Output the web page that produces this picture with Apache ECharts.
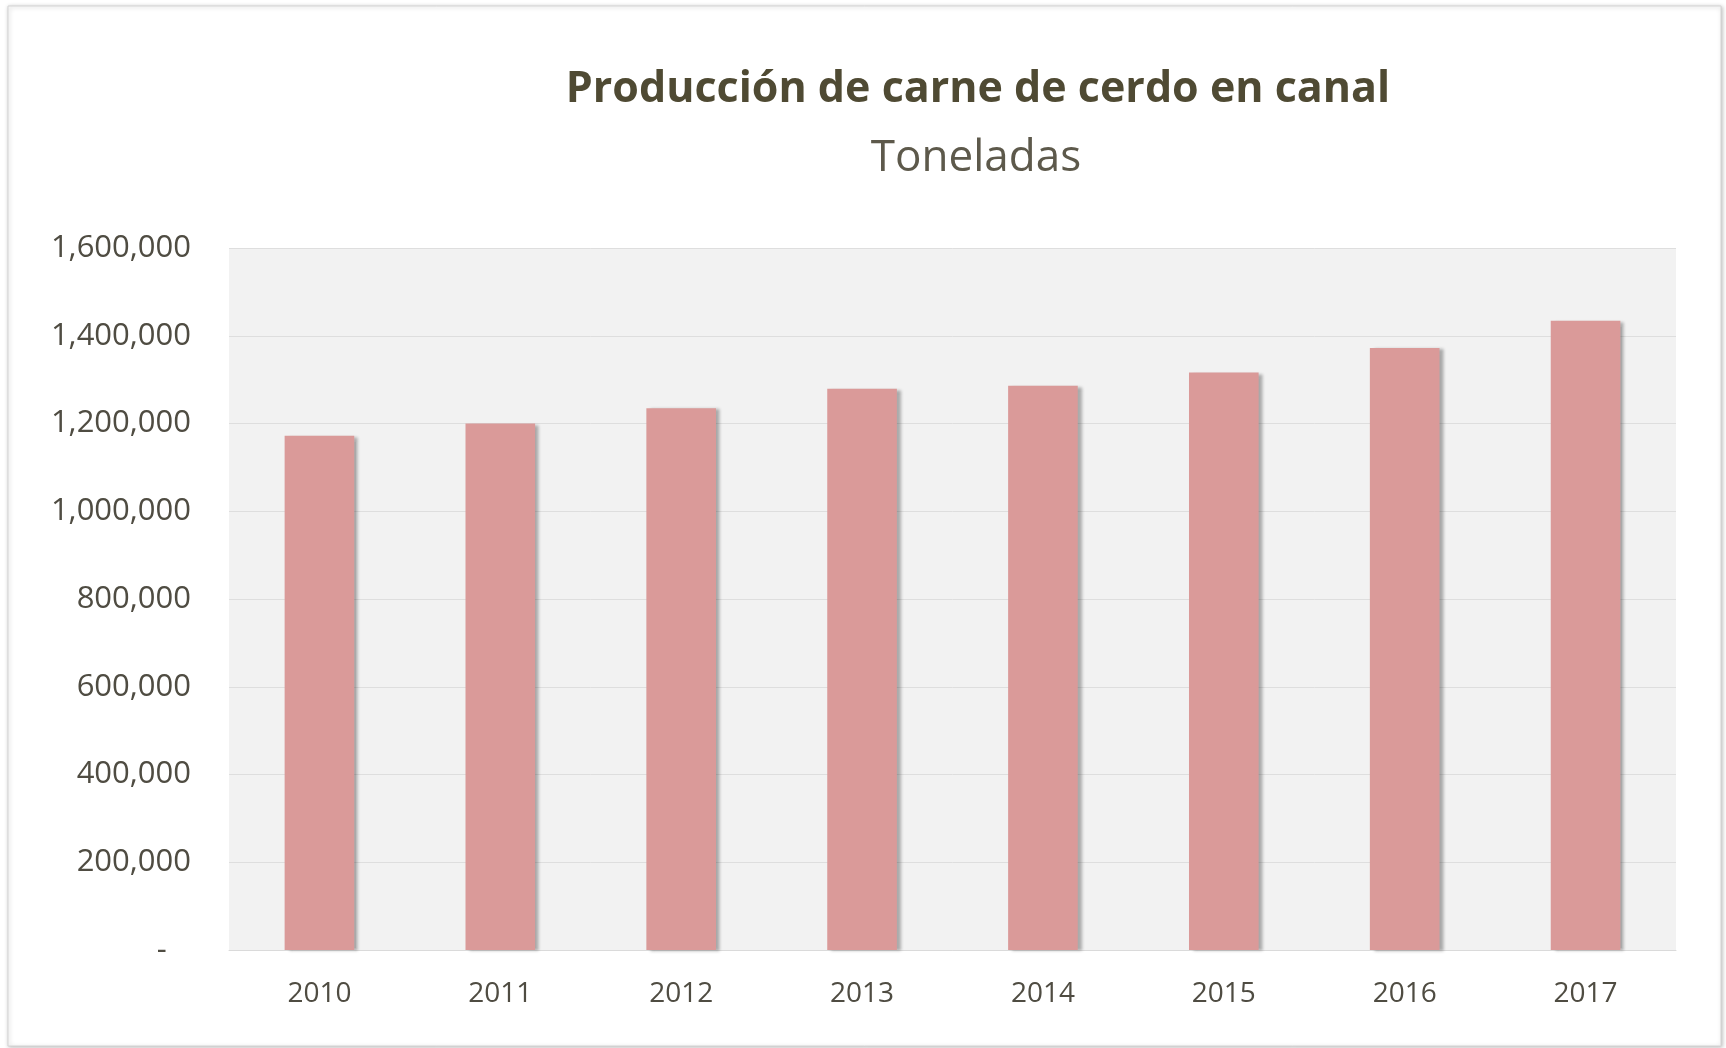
<!DOCTYPE html>
<html>
<head>
<meta charset="utf-8">
<script src="https://cdn.jsdelivr.net/npm/echarts@6/dist/echarts.min.js"></script>
<style>
    html, body { margin: 0; padding: 0; background: #fff; }
    #porkChart { width: 1726px; height: 1048px; }
</style>
</head>
<body>
<div id="porkChart"></div>
<script>
    // datos (toneladas)
    const years = ['2010', '2011', '2012', '2013', '2014', '2015', '2016', '2017'];
    const production = [1172000, 1200000, 1235000, 1279000, 1286000, 1316000, 1372000, 1434000];
    const yTicks = [0, 200000, 400000, 600000, 800000, 1000000, 1200000, 1400000, 1600000];

    const font = '"Open Sans", "Liberation Sans", sans-serif';
    const textColor = '#4f4c42';

    let myChart = echarts.init(document.getElementById('porkChart'));

    let option = {
        backgroundColor: '#ffffff',
        animation: false,
        graphic: [{
            type: 'rect',
            z: -10,
            shape: {x: 8, y: 6, width: 1713, height: 1040},
            style: {
                fill: '#ffffff',
                stroke: '#d4d4d4',
                lineWidth: 1,
                shadowColor: 'rgba(0,0,0,0.25)',
                shadowBlur: 4,
                shadowOffsetX: 1,
                shadowOffsetY: 1
            }
        }],
        title: [{
            text: 'Producción de carne de cerdo en canal',
            left: 973,
            top: 63,
            textAlign: 'center',
            textStyle: {
                fontFamily: font,
                fontSize: 43,
                fontWeight: 'bold',
                color: '#4f4a33'
            }
        }, {
            text: 'Toneladas',
            left: 971,
            top: 131,
            textAlign: 'center',
            textStyle: {
                fontFamily: font,
                fontSize: 44,
                fontWeight: 'normal',
                color: '#5d594b'
            }
        }],
        grid: {
            left: 229,
            right: 50,
            top: 248,
            bottom: 98,
            show: true,
            backgroundColor: '#f2f2f2',
            borderWidth: 0
        },
        xAxis: {
            type: 'category',
            data: years,
            axisTick: {show: false},
            axisLine: {lineStyle: {color: '#dadada', width: 1}},
            axisLabel: {
                margin: 30,
                fontFamily: font,
                fontSize: 28,
                color: textColor
            }
        },
        yAxis: {
            type: 'value',
            min: yTicks[0],
            max: yTicks[yTicks.length - 1],
            interval: yTicks[1] - yTicks[0],
            axisLine: {show: false},
            axisTick: {show: false},
            splitLine: {lineStyle: {color: '#dedede', width: 1}},
            axisLabel: {
                margin: 38,
                fontFamily: font,
                fontSize: 31,
                color: textColor,
                padding: [6, 0, 0, 0],
                formatter: function (v) {
                    return v === 0 ? '-   ' : v.toLocaleString('en-US');
                }
            }
        },
        series: [{
            type: 'bar',
            data: production,
            barWidth: '38.5%',
            itemStyle: {
                color: '#da9a99',
                shadowColor: 'rgba(0,0,0,0.3)',
                shadowBlur: 3,
                shadowOffsetX: 4,
                shadowOffsetY: 1
            }
        }]
    };

    myChart.setOption(option);
</script>
</body>
</html>
